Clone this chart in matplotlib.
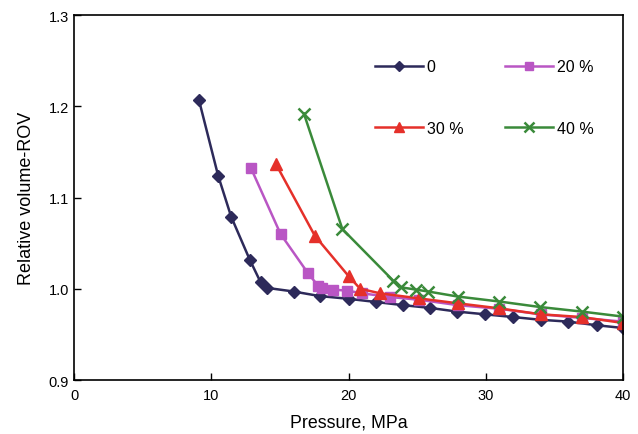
import matplotlib.pyplot as plt

plt.rcParams['font.family'] = ['Liberation Sans', 'DejaVu Sans']

# data
p0 = [9.1, 10.5, 11.45, 12.8, 13.6, 14.05, 16.0, 17.9, 20.0, 22.0, 24.0, 25.95, 27.9, 29.95, 32.0, 34.0, 36.0, 38.1, 40.0]
v0 = [1.207, 1.124, 1.079, 1.032, 1.007, 1.001, 0.997, 0.992, 0.989, 0.9855, 0.982, 0.979, 0.975, 0.972, 0.969, 0.966, 0.964, 0.960, 0.957]

p20 = [12.9, 15.05, 17.05, 17.8, 18.05, 18.9, 19.9, 21.0, 23.0, 25.1, 28.0, 31.0, 34.0, 37.0, 40.0]
v20 = [1.132, 1.060, 1.017, 1.003, 1.0005, 0.999, 0.998, 0.995, 0.991, 0.988, 0.982, 0.978, 0.972, 0.968, 0.964]

p30 = [14.7, 17.55, 20.0, 20.85, 22.3, 25.1, 28.0, 31.0, 34.0, 37.0, 40.0]
v30 = [1.137, 1.058, 1.014, 1.000, 0.995, 0.9895, 0.984, 0.9785, 0.972, 0.969, 0.9625]

p40 = [16.75, 19.55, 23.25, 23.85, 24.95, 25.8, 27.95, 31.0, 33.95, 37.0, 40.0]
v40 = [1.192, 1.0655, 1.009, 1.0015, 0.999, 0.997, 0.9915, 0.986, 0.980, 0.975, 0.9695]

labels = ['0', '20 %', '30 %', '40 %']

fig = plt.figure(figsize=(6.38, 4.35), dpi=100)
ax = fig.add_axes([0.116, 0.1241, 0.8605, 0.8391])

l0, = ax.plot(p0, v0, color='#2d2a5a', marker='D', markersize=6, lw=1.8, label=labels[0])
l20, = ax.plot(p20, v20, color='#b956c4', marker='s', markersize=7.5, lw=1.8, label=labels[1])
l30, = ax.plot(p30, v30, color='#e5302a', marker='^', markersize=8.5, lw=1.8, label=labels[2])
l40, = ax.plot(p40, v40, color='#3a8a3a', marker='x', markersize=8, mew=1.8, lw=1.8, label=labels[3])

ax.set_xlim(0, 40)
ax.set_ylim(0.9, 1.3)
ax.set_xticks([0, 10, 20, 30, 40])
ax.set_yticks([0.9, 1.0, 1.1, 1.2, 1.3])
ax.yaxis.set_major_formatter(plt.FormatStrFormatter('%.1f'))
ax.tick_params(direction='in', length=5, labelsize=10.5, width=1)
ax.tick_params(axis='x', pad=6)
for s in ax.spines.values():
    s.set_linewidth(1.2)

ax.set_xlabel('Pressure, MPa', fontsize=12.8, labelpad=8)
ax.set_ylabel('Relative volume-ROV', fontsize=13, labelpad=10)

# legend fills columns first, so order handles to get 0 / 20 % on the top row
ax.legend([l0, l30, l20, l40], [labels[0], labels[2], labels[1], labels[3]],
          ncol=2, frameon=False, loc='upper left', bbox_to_anchor=(0.522, 0.918),
          handlelength=3.0, labelspacing=2.9, columnspacing=2.6, handletextpad=0.25,
          fontsize=11.5, markerscale=0.85)

fig.savefig('out.png', dpi=100)
